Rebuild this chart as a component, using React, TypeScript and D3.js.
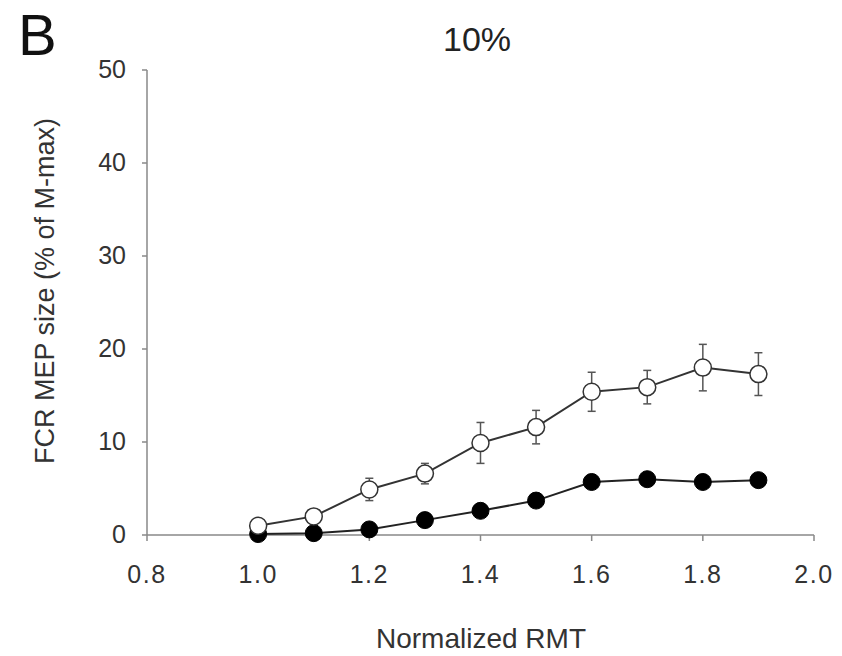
import React from "react";
import * as d3 from "d3";

const xLevels = [1.0, 1.1, 1.2, 1.3, 1.4, 1.5, 1.6, 1.7, 1.8, 1.9];
const openMeans = [1.0, 2.0, 4.9, 6.6, 9.9, 11.6, 15.4, 15.9, 18.0, 17.3];
const openErrors = [0.4, 0.5, 1.2, 1.1, 2.2, 1.8, 2.1, 1.8, 2.5, 2.3];
const filledMeans = [0.1, 0.2, 0.6, 1.6, 2.6, 3.7, 5.7, 6.0, 5.7, 5.9];
const xTicks = [0.8, 1.0, 1.2, 1.4, 1.6, 1.8, 2.0];
const yTicks = [0, 10, 20, 30, 40, 50];

const W = 842;
const H = 656;
const FONT = "'Liberation Sans', Arial, sans-serif";

export default function App() {
  const x = d3.scaleLinear().domain([0.8, 2.0]).range([147, 814]);
  const y = d3.scaleLinear().domain([0, 50]).range([535, 70]);
  const line = d3
    .line<number>()
    .x((_, i) => x(xLevels[i]))
    .y((d) => y(d));
  const r = 8.5;
  return (
    <svg
      width={W}
      height={H}
      style={{ position: "absolute", left: 0, top: 0, background: "#fff" }}
      fontFamily={FONT}
    >
      <rect width={W} height={H} fill="#fff" />
      <text x={18} y={55} fontSize={58} fill="#111">B</text>
      <text x={477} y={51} fontSize={34} textAnchor="middle" fill="#222">10%</text>

      {/* y axis */}
      <line x1={x(0.8)} x2={x(0.8)} y1={y(50)} y2={y(0)} stroke="#888" strokeWidth={1.5} />
      {yTicks.map((t) => (
        <g key={"y" + t}>
          <line x1={x(0.8) - 5} x2={x(0.8)} y1={y(t)} y2={y(t)} stroke="#888" strokeWidth={1.5} />
          <text x={x(0.8) - 21} y={y(t) + 8} fontSize={25} textAnchor="end" fill="#333">
            {t}
          </text>
        </g>
      ))}
      {/* x axis */}
      <line x1={x(0.8)} x2={x(2.0)} y1={y(0)} y2={y(0)} stroke="#888" strokeWidth={1.5} />
      {xTicks.map((t) => (
        <g key={"x" + t}>
          <line x1={x(t)} x2={x(t)} y1={y(0)} y2={y(0) + 6} stroke="#888" strokeWidth={1.5} />
          <text x={x(t)} y={583} fontSize={25} textAnchor="middle" letterSpacing={1.5} fill="#333">
            {t.toFixed(1)}
          </text>
        </g>
      ))}
      <text x={481} y={648} fontSize={28} textAnchor="middle" fill="#333">Normalized RMT</text>
      <text
        transform={`translate(54,291) rotate(-90)`}
        fontSize={27}
        textAnchor="middle"
        fill="#333"
      >
        FCR MEP size (% of M-max)
      </text>

      {/* open series */}
      <path d={line(openMeans) || ""} fill="none" stroke="#333" strokeWidth={2} />
      {openMeans.map((m, i) => (
        <g key={"eb" + i}>
          <line
            x1={x(xLevels[i])}
            x2={x(xLevels[i])}
            y1={y(m + openErrors[i])}
            y2={y(m - openErrors[i])}
            stroke="#555"
            strokeWidth={1.5}
          />
          <line x1={x(xLevels[i]) - 4} x2={x(xLevels[i]) + 4} y1={y(m + openErrors[i])} y2={y(m + openErrors[i])} stroke="#555" strokeWidth={1.5} />
          <line x1={x(xLevels[i]) - 4} x2={x(xLevels[i]) + 4} y1={y(m - openErrors[i])} y2={y(m - openErrors[i])} stroke="#555" strokeWidth={1.5} />
        </g>
      ))}
      {/* filled series */}
      <path d={line(filledMeans) || ""} fill="none" stroke="#222" strokeWidth={2} />
      {filledMeans.map((m, i) => (
        <circle key={"f" + i} cx={x(xLevels[i])} cy={y(m)} r={r} fill="#000" stroke="#000" strokeWidth={1} />
      ))}
      {openMeans.map((m, i) => (
        <circle key={"o" + i} cx={x(xLevels[i])} cy={y(m)} r={r} fill="#fff" stroke="#333" strokeWidth={1.5} />
      ))}
    </svg>
  );
}
